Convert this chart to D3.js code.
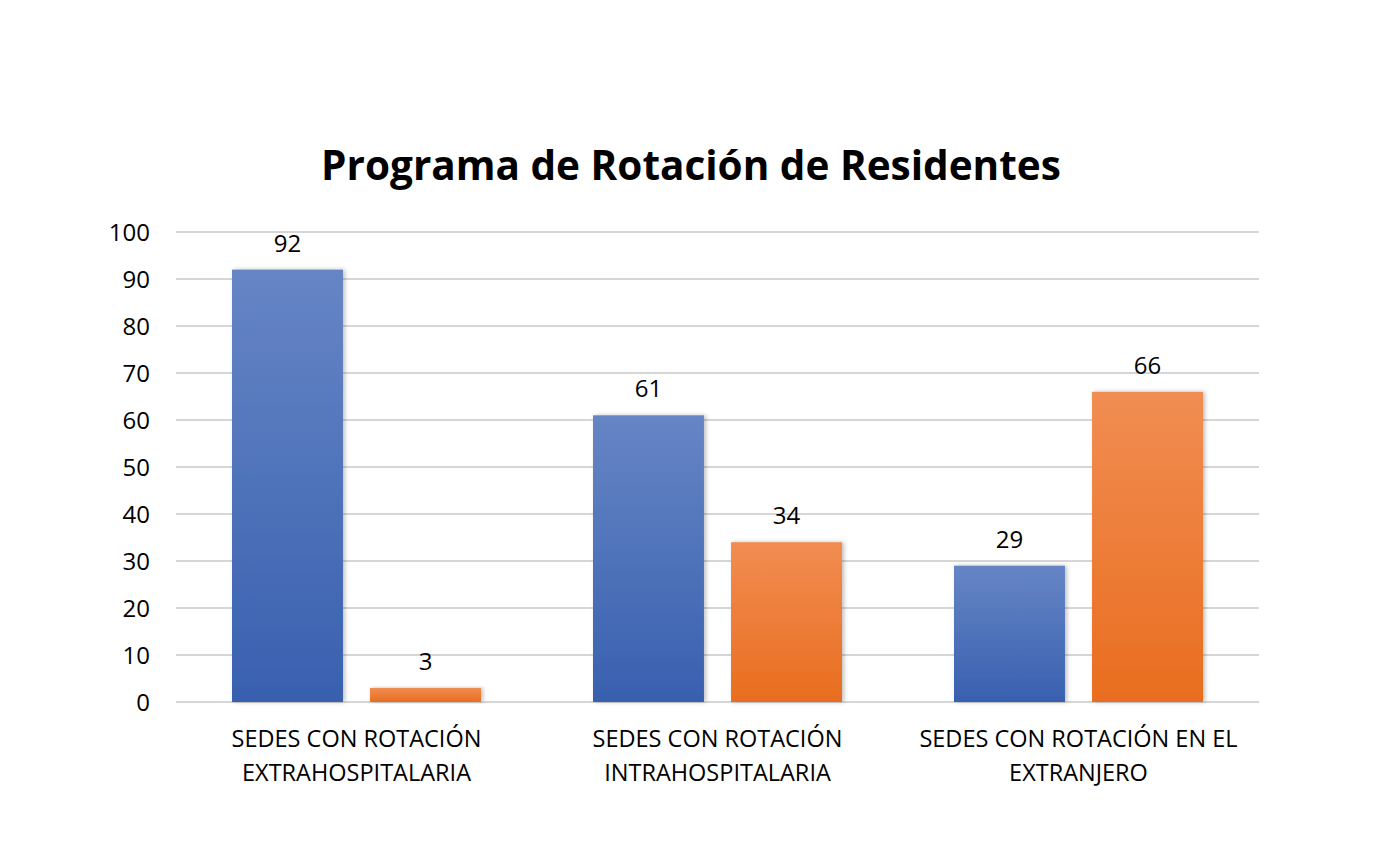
<!DOCTYPE html>
<html lang="es">
<head>
<meta charset="UTF-8">
<title>Programa de Rotación de Residentes</title>
<script src="https://d3js.org/d3.v7.min.js"></script>
<style>
  body { margin: 0; background: #fff; }
  text { font-family: "Open Sans", "Noto Sans", sans-serif; fill: #000; }
</style>
</head>
<body>
<div id="container"></div>
<script>
  // datos del gráfico
  var categories = [
    ["SEDES CON ROTACIÓN", "EXTRAHOSPITALARIA"],
    ["SEDES CON ROTACIÓN", "INTRAHOSPITALARIA"],
    ["SEDES CON ROTACIÓN EN EL", "EXTRANJERO"]
  ];
  var seriesNames = ["Serie 1", "Serie 2"];
  var serie1 = [92, 61, 29];
  var serie2 = [3, 34, 66];
  var yTicks = [0, 10, 20, 30, 40, 50, 60, 70, 80, 90, 100];

  var width = 1383, height = 866;
  var plotLeft = 176, plotRight = 1259, plotTop = 232, plotBottom = 702;

  var svg = d3.select("#container").append("svg")
    .attr("width", width)
    .attr("height", height);

  var defs = svg.append("defs");
  var gradBlue = defs.append("linearGradient").attr("id", "gBlue")
    .attr("x1", 0).attr("y1", 0).attr("x2", 0).attr("y2", 1);
  gradBlue.append("stop").attr("offset", "0%").attr("stop-color", "#6685c5");
  gradBlue.append("stop").attr("offset", "100%").attr("stop-color", "#3860af");
  var gradOrange = defs.append("linearGradient").attr("id", "gOrange")
    .attr("x1", 0).attr("y1", 0).attr("x2", 0).attr("y2", 1);
  gradOrange.append("stop").attr("offset", "0%").attr("stop-color", "#f18d52");
  gradOrange.append("stop").attr("offset", "100%").attr("stop-color", "#e96d1f");
  var shadow = defs.append("filter").attr("id", "shadow")
    .attr("x", "-10%").attr("y", "-10%").attr("width", "130%").attr("height", "120%");
  shadow.append("feDropShadow").attr("dx", 2).attr("dy", 0).attr("stdDeviation", 2)
    .attr("flood-color", "#000").attr("flood-opacity", 0.25);

  var y = d3.scaleLinear().domain([0, 100]).range([plotBottom, plotTop]);
  var x0 = d3.scaleBand().domain(d3.range(categories.length)).range([plotLeft, plotRight]).padding(0);
  var x1 = d3.scaleBand().domain(seriesNames).range([56, 305]).paddingInner(0.196).paddingOuter(0);

  // título
  svg.append("text")
    .attr("x", 691).attr("y", 180)
    .attr("text-anchor", "middle")
    .style("font-size", "40.5px").style("font-weight", "bold")
    .text("Programa de Rotación de Residentes");

  // líneas de la cuadrícula
  svg.append("g").selectAll("line").data(yTicks).enter().append("line")
    .attr("x1", plotLeft).attr("x2", plotRight)
    .attr("y1", d => y(d)).attr("y2", d => y(d))
    .attr("stroke", "#d6d6d6").attr("stroke-width", 2);

  // eje y
  var yAxis = svg.append("g").attr("transform", "translate(" + (plotLeft - 26) + ",0)")
    .call(d3.axisLeft(y).tickValues(yTicks).tickSize(0).tickPadding(0));
  yAxis.select(".domain").remove();
  yAxis.selectAll("text").style("font-size", "24px").attr("dy", "0.35em");

  var groups = svg.append("g").selectAll("g").data(categories).enter().append("g")
    .attr("transform", (d, i) => "translate(" + x0(i) + ",0)");

  var rows = [
    { name: seriesNames[0], values: serie1, fill: "url(#gBlue)" },
    { name: seriesNames[1], values: serie2, fill: "url(#gOrange)" }
  ];

  rows.forEach(function (s) {
    groups.append("rect")
      .attr("x", x1(s.name))
      .attr("y", (d, i) => y(s.values[i]))
      .attr("width", x1.bandwidth())
      .attr("height", (d, i) => y(0) - y(s.values[i]))
      .attr("fill", s.fill)
      .attr("filter", "url(#shadow)");
    groups.append("text")
      .attr("x", x1(s.name) + x1.bandwidth() / 2)
      .attr("y", (d, i) => y(s.values[i]) - 18)
      .attr("text-anchor", "middle")
      .style("font-size", "24px")
      .text((d, i) => s.values[i]);
  });

  // etiquetas de categoría
  groups.each(function (d) {
    var t = d3.select(this).append("text")
      .attr("x", x0.bandwidth() / 2)
      .attr("y", 747)
      .attr("text-anchor", "middle")
      .style("font-size", "23.5px");
    d.forEach(function (line, k) {
      t.append("tspan").attr("x", x0.bandwidth() / 2).attr("dy", k === 0 ? 0 : 34).text(line);
    });
  });
</script>
</body>
</html>
